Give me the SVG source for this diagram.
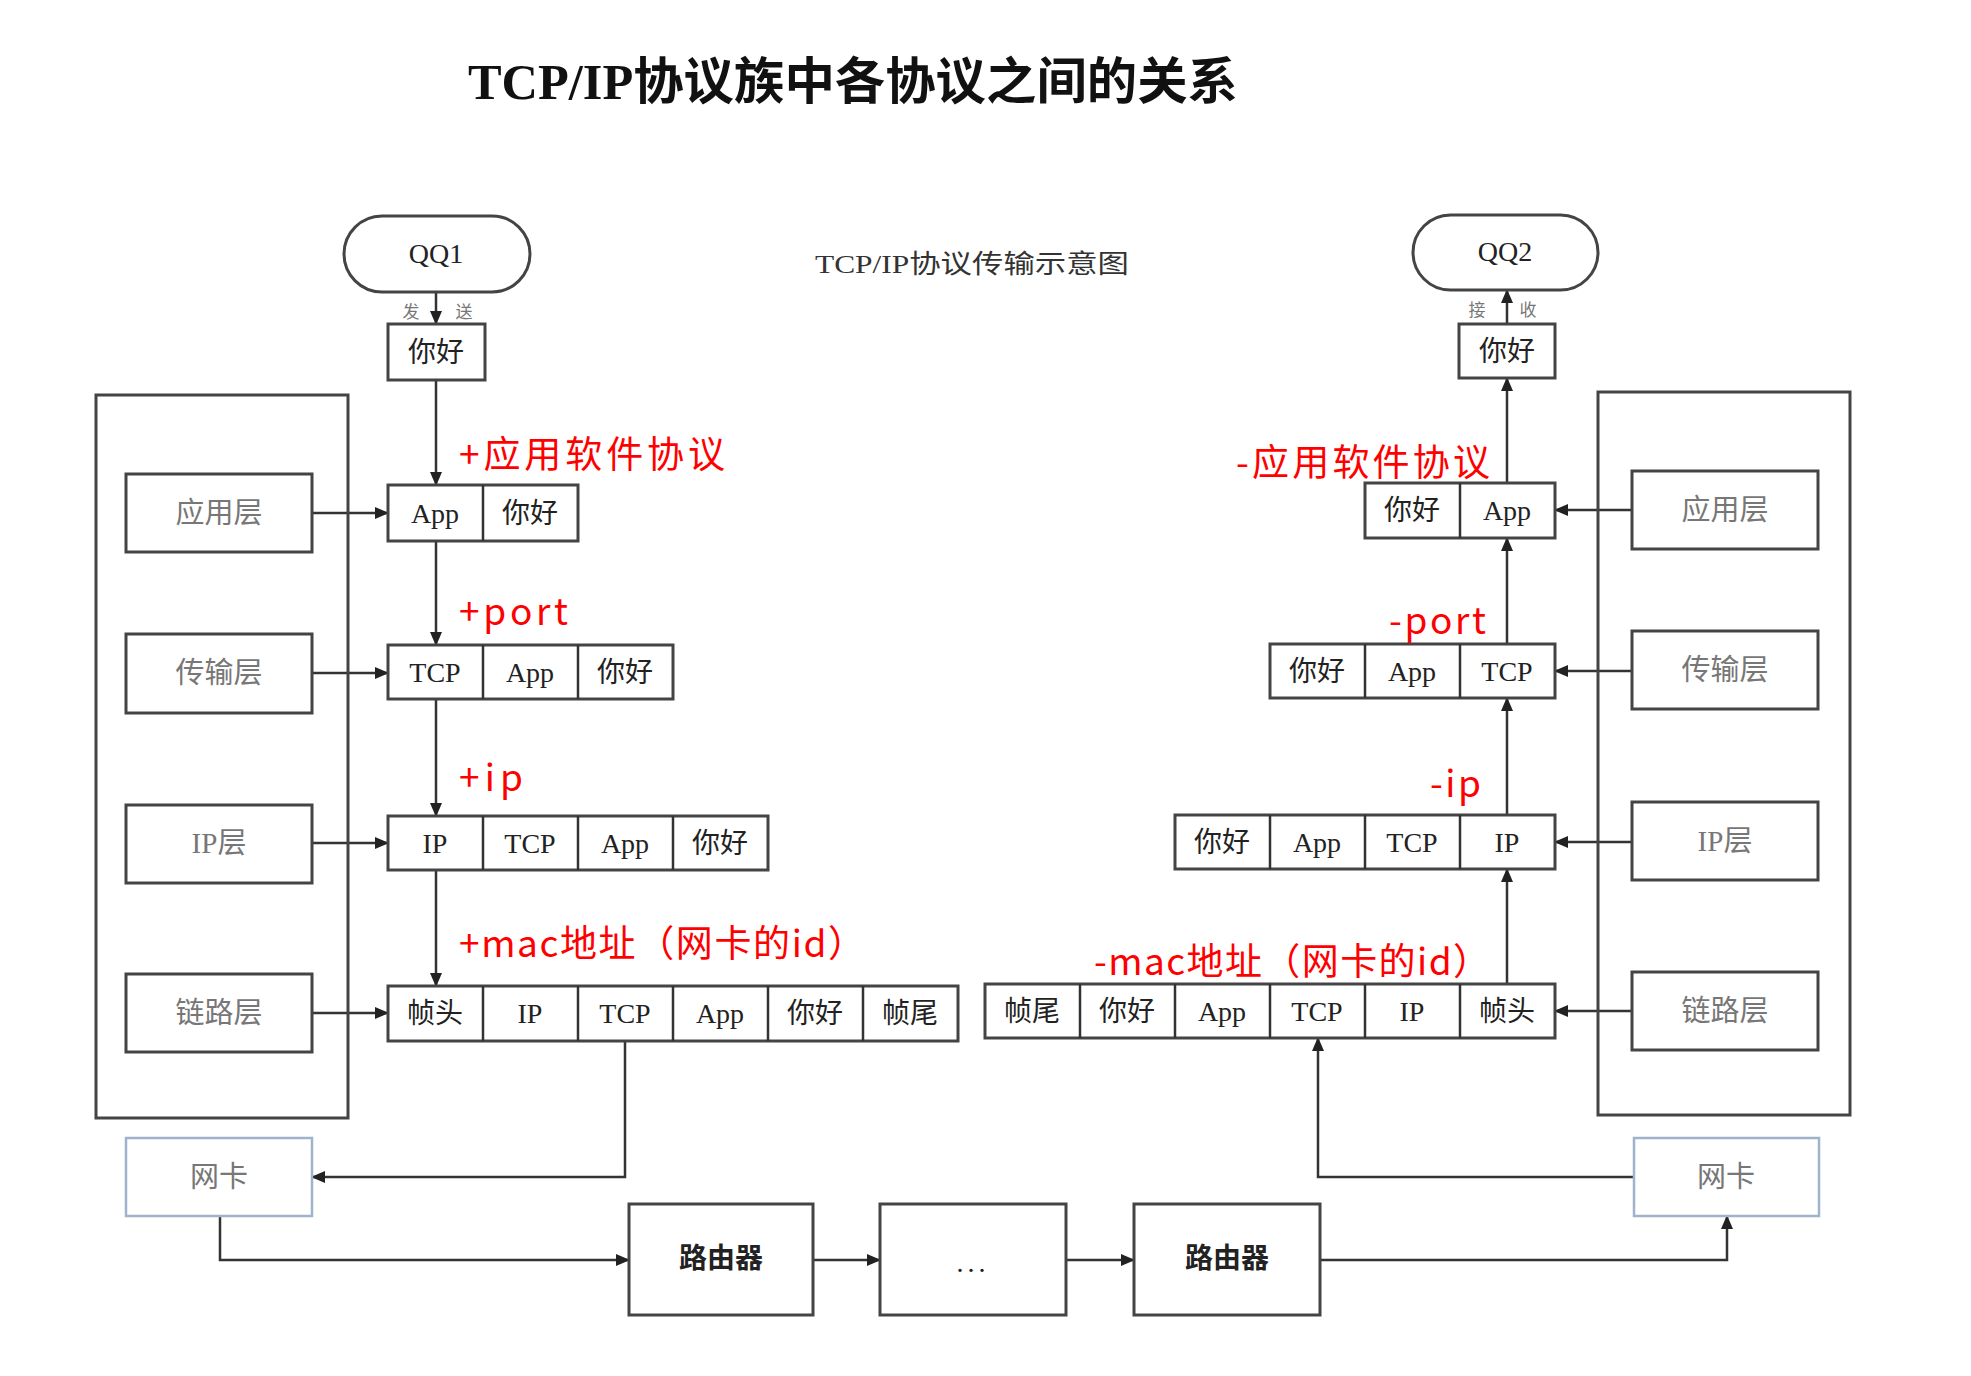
<svg xmlns="http://www.w3.org/2000/svg" width="1971" height="1376" viewBox="0 0 1971 1376">
<defs>
<marker id="ah" markerUnits="userSpaceOnUse" markerWidth="14" markerHeight="14" viewBox="0 0 14 14" refX="13" refY="7" orient="auto">
<path d="M0,1 L14,7 L0,13 Z" fill="#222"/>
</marker>
</defs>
<style>
.box{fill:#fff;stroke:#444;stroke-width:3}
.nic{fill:#fff;stroke:#9fb3cc;stroke-width:2.5}
.frame{fill:none;stroke:#444;stroke-width:3}
.ln{fill:none;stroke:#333;stroke-width:2.5}
.arr{fill:none;stroke:#333;stroke-width:2.5;marker-end:url(#ah)}
.t{font-family:"Liberation Serif","Noto Sans CJK SC",serif;font-size:28px;fill:#222;text-anchor:middle;dominant-baseline:central}
.g{font-family:"Liberation Serif","Noto Sans CJK SC",serif;font-size:29px;fill:#777;text-anchor:middle;dominant-baseline:central}
.s{font-family:"Liberation Serif","Noto Sans CJK SC",serif;font-size:17px;fill:#777;text-anchor:middle;dominant-baseline:central}
.r{font-family:"Noto Sans CJK SC","Noto Sans",sans-serif;font-size:37px;fill:#ff0000}
</style>
<rect width="1971" height="1376" fill="#fff"/>
<text x="468" y="99" textLength="770" lengthAdjust="spacingAndGlyphs" style="font-family:'Liberation Serif','Noto Sans CJK SC',serif;font-size:50px;font-weight:bold;fill:#111">TCP/IP协议族中各协议之间的关系</text>
<text x="815" y="273" textLength="314" lengthAdjust="spacingAndGlyphs" style="font-family:'Liberation Serif','Noto Sans CJK SC',serif;font-size:26px;fill:#333">TCP/IP协议传输示意图</text>

<g id="connectors">
<line class="arr" x1="436" y1="292" x2="436" y2="324"/>
<line class="arr" x1="436" y1="380" x2="436" y2="485"/>
<line class="arr" x1="436" y1="541" x2="436" y2="645"/>
<line class="arr" x1="436" y1="699" x2="436" y2="816"/>
<line class="arr" x1="436" y1="870" x2="436" y2="986"/>
<line class="arr" x1="312" y1="513" x2="388" y2="513"/>
<line class="arr" x1="312" y1="673" x2="388" y2="673"/>
<line class="arr" x1="312" y1="843" x2="388" y2="843"/>
<line class="arr" x1="312" y1="1013" x2="388" y2="1013"/>
<line class="arr" x1="1507" y1="324" x2="1507" y2="290"/>
<line class="arr" x1="1507" y1="483" x2="1507" y2="378"/>
<line class="arr" x1="1507" y1="644" x2="1507" y2="538"/>
<line class="arr" x1="1507" y1="815" x2="1507" y2="698"/>
<line class="arr" x1="1507" y1="984" x2="1507" y2="869"/>
<line class="arr" x1="1632" y1="510" x2="1555" y2="510"/>
<line class="arr" x1="1632" y1="671" x2="1555" y2="671"/>
<line class="arr" x1="1632" y1="842" x2="1555" y2="842"/>
<line class="arr" x1="1632" y1="1011" x2="1555" y2="1011"/>
<polyline class="arr" points="625,1041 625,1177 312,1177"/>
<polyline class="arr" points="220,1216 220,1260 629,1260"/>
<line class="arr" x1="813" y1="1260" x2="880" y2="1260"/>
<line class="arr" x1="1066" y1="1260" x2="1134" y2="1260"/>
<polyline class="arr" points="1320,1260 1727,1260 1727,1216"/>
<polyline class="arr" points="1634,1177 1318,1177 1318,1038"/>
</g>

<g id="left-stack"><rect class="frame" x="96" y="395" width="252" height="723"/></g>
<g id="right-stack"><rect class="frame" x="1598" y="392" width="252" height="723"/></g>

<g id="qq1"><rect class="box" x="344" y="216" width="186" height="76" rx="38"/><text class="t" x="436" y="253">QQ1</text></g>
<g id="send-label"><text class="s" x="411" y="312">发</text><text class="s" x="464" y="312">送</text></g>
<g id="hello1"><rect class="box" x="388" y="324" width="97" height="56"/><text class="t" x="436" y="352">你好</text></g>

<g id="l-app"><rect class="box" x="126" y="474" width="186" height="78"/><text class="g" x="219" y="513">应用层</text></g>
<g id="l-tcp"><rect class="box" x="126" y="634" width="186" height="79"/><text class="g" x="219" y="673">传输层</text></g>
<g id="l-ip"><rect class="box" x="126" y="805" width="186" height="78"/><text class="g" x="219" y="843">IP层</text></g>
<g id="l-link"><rect class="box" x="126" y="974" width="186" height="78"/><text class="g" x="219" y="1013">链路层</text></g>

<g id="lp1"><rect class="box" x="388" y="485" width="190" height="56"/><line class="ln" x1="483" y1="485" x2="483" y2="541"/>
<text class="t" x="435" y="513">App</text><text class="t" x="530" y="513">你好</text></g>
<g id="lp2"><rect class="box" x="388" y="645" width="285" height="54"/><line class="ln" x1="483" y1="645" x2="483" y2="699"/><line class="ln" x1="578" y1="645" x2="578" y2="699"/>
<text class="t" x="435" y="672">TCP</text><text class="t" x="530" y="672">App</text><text class="t" x="625" y="672">你好</text></g>
<g id="lp3"><rect class="box" x="388" y="816" width="380" height="54"/><line class="ln" x1="483" y1="816" x2="483" y2="870"/><line class="ln" x1="578" y1="816" x2="578" y2="870"/><line class="ln" x1="673" y1="816" x2="673" y2="870"/>
<text class="t" x="435" y="843">IP</text><text class="t" x="530" y="843">TCP</text><text class="t" x="625" y="843">App</text><text class="t" x="720" y="843">你好</text></g>
<g id="lp4"><rect class="box" x="388" y="986" width="570" height="55"/><line class="ln" x1="483" y1="986" x2="483" y2="1041"/><line class="ln" x1="578" y1="986" x2="578" y2="1041"/><line class="ln" x1="673" y1="986" x2="673" y2="1041"/><line class="ln" x1="768" y1="986" x2="768" y2="1041"/><line class="ln" x1="863" y1="986" x2="863" y2="1041"/>
<text class="t" x="435" y="1013">帧头</text><text class="t" x="530" y="1013">IP</text><text class="t" x="625" y="1013">TCP</text><text class="t" x="720" y="1013">App</text><text class="t" x="815" y="1013">你好</text><text class="t" x="910" y="1013">帧尾</text></g>

<g id="qq2"><rect class="box" x="1413" y="215" width="185" height="75" rx="37.5"/><text class="t" x="1505" y="251">QQ2</text></g>
<g id="recv-label"><text class="s" x="1477" y="310">接</text><text class="s" x="1528" y="310">收</text></g>
<g id="hello2"><rect class="box" x="1459" y="324" width="96" height="54"/><text class="t" x="1507" y="351">你好</text></g>

<g id="r-app"><rect class="box" x="1632" y="471" width="186" height="78"/><text class="g" x="1725" y="510">应用层</text></g>
<g id="r-tcp"><rect class="box" x="1632" y="631" width="186" height="78"/><text class="g" x="1725" y="670">传输层</text></g>
<g id="r-ip"><rect class="box" x="1632" y="802" width="186" height="78"/><text class="g" x="1725" y="841">IP层</text></g>
<g id="r-link"><rect class="box" x="1632" y="972" width="186" height="78"/><text class="g" x="1725" y="1011">链路层</text></g>

<g id="rp1"><rect class="box" x="1365" y="483" width="190" height="55"/><line class="ln" x1="1460" y1="483" x2="1460" y2="538"/>
<text class="t" x="1412" y="510">你好</text><text class="t" x="1507" y="510">App</text></g>
<g id="rp2"><rect class="box" x="1270" y="644" width="285" height="54"/><line class="ln" x1="1365" y1="644" x2="1365" y2="698"/><line class="ln" x1="1460" y1="644" x2="1460" y2="698"/>
<text class="t" x="1317" y="671">你好</text><text class="t" x="1412" y="671">App</text><text class="t" x="1507" y="671">TCP</text></g>
<g id="rp3"><rect class="box" x="1175" y="815" width="380" height="54"/><line class="ln" x1="1270" y1="815" x2="1270" y2="869"/><line class="ln" x1="1365" y1="815" x2="1365" y2="869"/><line class="ln" x1="1460" y1="815" x2="1460" y2="869"/>
<text class="t" x="1222" y="842">你好</text><text class="t" x="1317" y="842">App</text><text class="t" x="1412" y="842">TCP</text><text class="t" x="1507" y="842">IP</text></g>
<g id="rp4"><rect class="box" x="985" y="984" width="570" height="54"/><line class="ln" x1="1080" y1="984" x2="1080" y2="1038"/><line class="ln" x1="1175" y1="984" x2="1175" y2="1038"/><line class="ln" x1="1270" y1="984" x2="1270" y2="1038"/><line class="ln" x1="1365" y1="984" x2="1365" y2="1038"/><line class="ln" x1="1460" y1="984" x2="1460" y2="1038"/>
<text class="t" x="1032" y="1011">帧尾</text><text class="t" x="1127" y="1011">你好</text><text class="t" x="1222" y="1011">App</text><text class="t" x="1317" y="1011">TCP</text><text class="t" x="1412" y="1011">IP</text><text class="t" x="1507" y="1011">帧头</text></g>

<g id="nic-left"><rect class="nic" x="126" y="1138" width="186" height="78"/><text class="g" x="219" y="1177">网卡</text></g>
<g id="nic-right"><rect class="nic" x="1634" y="1138" width="185" height="78"/><text class="g" x="1726" y="1177">网卡</text></g>
<g id="router1"><rect class="box" x="629" y="1204" width="184" height="111"/><text class="t" x="721" y="1258" style="font-weight:bold">路由器</text></g>
<g id="dots"><rect class="box" x="880" y="1204" width="186" height="111"/><text class="t" x="973" y="1262" style="letter-spacing:4px">...</text></g>
<g id="router2"><rect class="box" x="1134" y="1204" width="186" height="111"/><text class="t" x="1227" y="1258" style="font-weight:bold">路由器</text></g>

<g id="red-labels">
<text class="r" x="459" y="468" textLength="266" lengthAdjust="spacing">+应用软件协议</text>
<text class="r" x="459" y="625" textLength="109" lengthAdjust="spacing">+port</text>
<text class="r" x="459" y="791" textLength="64" lengthAdjust="spacing">+ip</text>
<text class="r" x="459" y="957" textLength="406" lengthAdjust="spacing">+mac地址（网卡的id）</text>
<text class="r" x="1236" y="476" textLength="254" lengthAdjust="spacing">-应用软件协议</text>
<text class="r" x="1389" y="634" textLength="97" lengthAdjust="spacing">-port</text>
<text class="r" x="1430" y="797" textLength="51" lengthAdjust="spacing">-ip</text>
<text class="r" x="1094" y="975" textLength="396" lengthAdjust="spacing">-mac地址（网卡的id）</text>
</g>
</svg>
